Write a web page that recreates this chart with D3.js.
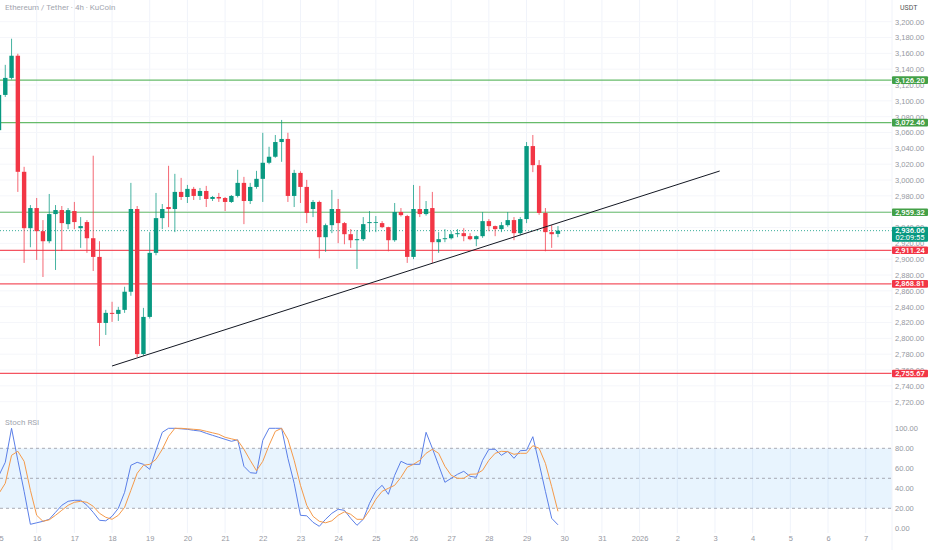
<!DOCTYPE html>
<html>
<head>
<meta charset="utf-8">
<script src="https://cdn.jsdelivr.net/npm/d3@7"></script>
<style>
  body { margin: 0; background: #fff; }
  svg { display: block; font-family: Roboto, "Liberation Sans", sans-serif; }
  .tick text { fill: #9598a1; font-size: 7.5px; }
</style>
</head>
<body>
<div id="chart"></div>
<script>
// ETH/USDT 4h candles, first candle Dec 15 2025 00:00 UTC
var opens  = [3063,3107.5,3129,3157,3010.4,2939.2,2964.6,2935.4,2922.7,2957,2962.1,2944.3,2960.8,2939.2,2946.9,2926.5,2902.9,2819.5,2832.2,2830.9,2836,2858.9,2963.4,2780.2,2827.1,2908,2951.9,2965.9,2963.4,2985,2978.6,2988.8,2979.9,2986.2,2976.1,2978.6,2977.3,2972.3,2979.9,2996.4,2973.5,2991.3,3001.5,3021.8,3029.4,3048,3051.9,2979.9,3009,2991.3,2963.4,2972.3,2927.8,2943,2963.4,2945.6,2931.6,2924,2925.3,2945.6,2946.2,2945.6,2940.5,2924,2959.6,2954.5,2902.9,2963.4,2957,2964.6,2921.5,2925.3,2926.5,2931.6,2932.9,2929.1,2925.3,2929.1,2948.1,2941.8,2938,2943,2949.4,2932.9,2950.7,3042.9,3018.8,2958.4,2934.2,2932];
var highs  = [3111,3145.5,3178.5,3159.5,3016.7,2968.4,2977.3,2949.4,2982.4,2968.4,2967.2,2964.6,2972.3,2953.2,2949.4,3030.7,2922.7,2836,2846.2,2839.8,2865.2,2996.4,2967.2,2838.5,2934.2,2983.7,2969.7,3018,3007.8,3002.7,2993.8,2991.3,2990,2992.6,2979.9,2983.7,2978.6,2981.1,3012.9,3004,2996.4,3011.6,3059.7,3042,3056.9,3075.9,3059.7,3012.9,3011,3000.2,2974.8,2974,2945,2987.5,2976.1,2947,2938,2936.7,2953.2,2960.8,2954.5,2948.1,2941,2971,2964.6,2956,2993.8,2992.6,2973.5,2985,2934.2,2938,2935.4,2938,2939.2,2932.9,2930,2959.6,2950.7,2942.5,2946.9,2959.6,2953.2,2953.2,3048,3056.9,3025.2,2964.6,2943,2941.8];
var lows   = [3059,3105,3127,2985,2895.3,2915.1,2899.1,2877.5,2920.2,2886.4,2910.5,2938,2938,2914.3,2908,2885.1,2790.3,2804.3,2820.8,2822,2832.2,2853.8,2776.4,2778,2825,2905,2938,2940.5,2934.2,2974.8,2971,2974.8,2974.8,2965.9,2973.5,2972.3,2960.8,2971,2978,2944.3,2969.7,2989,2972.3,3020,3028.1,3023,2972.3,2965.9,2971,2945.6,2953.2,2901.1,2909.3,2932.9,2920.2,2918.9,2914.3,2887.7,2923,2934.2,2934.2,2939.2,2910,2922,2954,2895.3,2900,2953.2,2955,2895.3,2908,2921.5,2925,2927.8,2922.7,2924,2916.4,2927,2935.4,2929.1,2934.2,2941,2924,2930.3,2945.6,3010,2956,2910,2914.3,2927.8];
var closes = [3107.5,3129,3157,3010.4,2939.2,2964.6,2935.4,2922.7,2957,2962.1,2945.6,2962,2946.9,2941.8,2926.5,2902.9,2819.5,2832.2,2830.9,2836,2858.9,2963.4,2780.2,2827.1,2908,2951.9,2963.4,2963.4,2985,2978.6,2988.8,2979.9,2986.2,2976.1,2978.6,2976.7,2972.3,2979.9,2996.4,2973.5,2991.3,3001.5,3021.8,3029.4,3048,3051.9,2979.9,3009,2991.3,2958.4,2972.3,2927.8,2943,2963.4,2945.6,2931.6,2924,2925.3,2944.3,2946.9,2946.9,2940.5,2924,2959.6,2955.7,2902.9,2963.4,2957,2963.4,2921.5,2925.3,2926.5,2931.6,2932.9,2929.1,2925.3,2929.1,2948.1,2941.8,2938,2943,2949.4,2932.9,2950.7,3042.9,3018.8,2958.4,2934.2,2931.6,2936.06];

// Stoch RSI %K (blue) and %D (orange)
var stochK = [53,66,100,68,37,4,5.5,7,9,16,23,27,28,28,23,16,8,7.5,12,20,36,63,66,64,59,78,96,100,100,99.5,99,98,97.3,95,93,91,89,87,88.5,62,55.6,55,88,100,100,100,70,45,13,12.5,6,2,9,15,19,18,10,3,9,25,37,43,34,53,67,64,64,64,96,80,63,46,50,54,57,52,51,68,79,79,73,77,70,77.6,78,91.6,65,37,10,3.5];
var stochD = [35,45,73,77,67,38,13,7,8.5,13,18,23,26,27,26,22,15,11,9,13,21,38,55,63,64,69,79,92,100,100,99.5,99,98.5,97,95.5,94,91,89.5,88,79,68,57.6,67,83,97,100,89,68,43,23,12,7,5.5,7.5,13,16.5,14,9,9,18,29,37,40,43,51,61,64,68,75,79,75,62,53,50,50,54,54.3,58,68,75,77,76.6,74,75,75,82.6,80,65,41.6,17];

var greenLevels = [3126.20, 3072.46, 2959.32];
var redLevels   = [2911.24, 2868.81, 2755.67];
var lastPrice = 2936.06;
var countdown = "02:09:55";

var priceTicks = d3.range(2720, 3201, 20);
var stochTicks = [0, 20, 40, 60, 80, 100];
var stochBands = [80, 50, 20];

// trend line anchors: [time, price]
var trendLine = [[Date.UTC(2025, 11, 18, 0), 2765.1], [Date.UTC(2026, 0, 3, 3), 3011.4]];

var W = 932, H = 550, paneRight = 892;
var UP = "#089981", DOWN = "#f23645";
var start = Date.UTC(2025, 11, 15, 0);
var times = opens.map(function(d, i){ return new Date(start + i * 4 * 3600 * 1000); });

var x = d3.scaleUtc()
  .domain([new Date(Date.UTC(2025, 11, 15)), new Date(Date.UTC(2026, 0, 7))])
  .range([-1, 865.7]);
var y = d3.scaleLinear().domain([2720, 3200]).range([401.7, 21.7]);
var ys = d3.scaleLinear().domain([0, 100]).range([528.3, 428.3]);

var svg = d3.select("#chart").append("svg").attr("width", W).attr("height", H);

svg.append("defs").append("clipPath").attr("id", "pane")
  .append("rect").attr("x", 0).attr("y", 0).attr("width", paneRight).attr("height", 412);

var days = d3.utcDay.range(new Date(Date.UTC(2025, 11, 15)), new Date(Date.UTC(2026, 0, 8)));

// grid
svg.append("g").selectAll("line").data(days).enter().append("line")
  .attr("x1", function(d){ return x(d); }).attr("x2", function(d){ return x(d); })
  .attr("y1", 0).attr("y2", 533)
  .attr("stroke", "#f0f3fa").attr("stroke-width", 1);
svg.append("g").selectAll("line").data(priceTicks).enter().append("line")
  .attr("x1", 0).attr("x2", paneRight)
  .attr("y1", function(d){ return y(d); }).attr("y2", function(d){ return y(d); })
  .attr("stroke", "#f5f6fa").attr("stroke-width", 1);

// stoch band
svg.append("rect")
  .attr("x", 0).attr("width", paneRight)
  .attr("y", ys(80)).attr("height", ys(20) - ys(80))
  .attr("fill", "rgba(33,150,243,0.1)");
svg.append("g").selectAll("line").data(stochBands).enter().append("line")
  .attr("x1", 0).attr("x2", paneRight)
  .attr("y1", function(d){ return ys(d); }).attr("y2", function(d){ return ys(d); })
  .attr("stroke", "#9598a1").attr("stroke-dasharray", "3,3").attr("stroke-width", 0.8);

var main = svg.append("g").attr("clip-path", "url(#pane)");

// levels
greenLevels.forEach(function(p){
  main.append("line").attr("x1", 0).attr("x2", paneRight).attr("y1", y(p)).attr("y2", y(p))
    .attr("stroke", "#4caf50").attr("stroke-opacity", 0.85).attr("stroke-width", 1.2);
});
redLevels.forEach(function(p){
  main.append("line").attr("x1", 0).attr("x2", paneRight).attr("y1", y(p)).attr("y2", y(p))
    .attr("stroke", DOWN).attr("stroke-opacity", 0.85).attr("stroke-width", 1.2);
});
main.append("line").attr("x1", 0).attr("x2", paneRight).attr("y1", y(lastPrice)).attr("y2", y(lastPrice))
  .attr("stroke", UP).attr("stroke-dasharray", "1,2").attr("stroke-width", 0.8);

// candles
var candles = main.selectAll("g.candle").data(times).enter().append("g").attr("class", "candle");
candles.append("line")
  .attr("x1", function(d){ return x(d); }).attr("x2", function(d){ return x(d); })
  .attr("y1", function(d, i){ return y(highs[i]); })
  .attr("y2", function(d, i){ return y(lows[i]); })
  .attr("stroke", function(d, i){ return closes[i] >= opens[i] ? UP : DOWN; })
  .attr("stroke-opacity", 0.75)
  .attr("stroke-width", 1);
candles.append("rect")
  .attr("x", function(d){ return x(d) - 2.2; })
  .attr("width", 4.4)
  .attr("y", function(d, i){ return y(Math.max(opens[i], closes[i])); })
  .attr("height", function(d, i){ return Math.max(0.8, Math.abs(y(opens[i]) - y(closes[i]))); })
  .attr("fill", function(d, i){ return closes[i] >= opens[i] ? UP : DOWN; });

// trend line
main.append("line")
  .attr("x1", x(new Date(trendLine[0][0]))).attr("y1", y(trendLine[0][1]))
  .attr("x2", x(new Date(trendLine[1][0]))).attr("y2", y(trendLine[1][1]))
  .attr("stroke", "#131722").attr("stroke-width", 1);

// stoch lines
var lineK = d3.line().x(function(d, i){ return x(times[i]); }).y(function(d){ return ys(d); });
svg.append("path").datum(stochK).attr("d", lineK)
  .attr("fill", "none").attr("stroke", "#5b7fe8").attr("stroke-width", 1);
svg.append("path").datum(stochD).attr("d", lineK)
  .attr("fill", "none").attr("stroke", "#f59a4a").attr("stroke-width", 1);

// axes
var fmt = d3.format(",.2f");
var pAxis = svg.append("g").attr("transform", "translate(895,0)")
  .call(d3.axisRight(y).tickValues(priceTicks).tickFormat(fmt).tickSize(0).tickPadding(0));
pAxis.select(".domain").remove();
var sAxis = svg.append("g").attr("transform", "translate(895,0)")
  .call(d3.axisRight(ys).tickValues(stochTicks).tickFormat(fmt).tickSize(0).tickPadding(0));
sAxis.select(".domain").remove();

var xAxis = svg.append("g").attr("transform", "translate(0,536)")
  .call(d3.axisBottom(x).tickValues(days).tickSize(0).tickPadding(0)
    .tickFormat(function(d){
      return (d.getUTCMonth() === 0 && d.getUTCDate() === 1) ? "2026" : String(d.getUTCDate());
    }));
xAxis.select(".domain").remove();

svg.append("line").attr("x1", paneRight).attr("x2", paneRight).attr("y1", 0).attr("y2", H)
  .attr("stroke", "#f0f3fa");

// level tags
function tag(p, color, txt){
  var g = svg.append("g");
  g.append("rect").attr("x", paneRight).attr("y", y(p) - 3.8).attr("width", 36).attr("height", 7.6)
    .attr("fill", color).attr("rx", 1);
  g.append("text").attr("x", paneRight + 18).attr("y", y(p) + 2.6)
    .attr("text-anchor", "middle").attr("fill", "#fff").attr("font-size", "7.5px")
    .attr("font-weight", 600).text(txt);
}
greenLevels.forEach(function(p){ tag(p, "#43a047", fmt(p)); });
redLevels.forEach(function(p){ tag(p, DOWN, fmt(p)); });

var cur = svg.append("g");
cur.append("rect").attr("x", paneRight).attr("y", y(lastPrice) - 3.8).attr("width", 36).attr("height", 15)
  .attr("fill", UP).attr("rx", 1);
cur.append("text").attr("x", paneRight + 18).attr("y", y(lastPrice) + 2.6)
  .attr("text-anchor", "middle").attr("fill", "#fff").attr("font-size", "7.5px").attr("font-weight", 600)
  .text(fmt(lastPrice));
cur.append("text").attr("x", paneRight + 18).attr("y", y(lastPrice) + 9.6)
  .attr("text-anchor", "middle").attr("fill", "#fff").attr("font-size", "7.5px")
  .text(countdown);

// titles
svg.append("text").attr("x", 5).attr("y", 10).attr("font-size", "8px").attr("fill", "#a3a6af")
  .text("Ethereum / Tether · 4h · KuCoin");
svg.append("text").attr("x", 5).attr("y", 425).attr("font-size", "8px").attr("fill", "#a3a6af")
  .text("Stoch RSI");
svg.append("text").attr("x", 900).attr("y", 10).attr("font-size", "7px").attr("fill", "#555")
  .text("USDT");
</script>
</body>
</html>
